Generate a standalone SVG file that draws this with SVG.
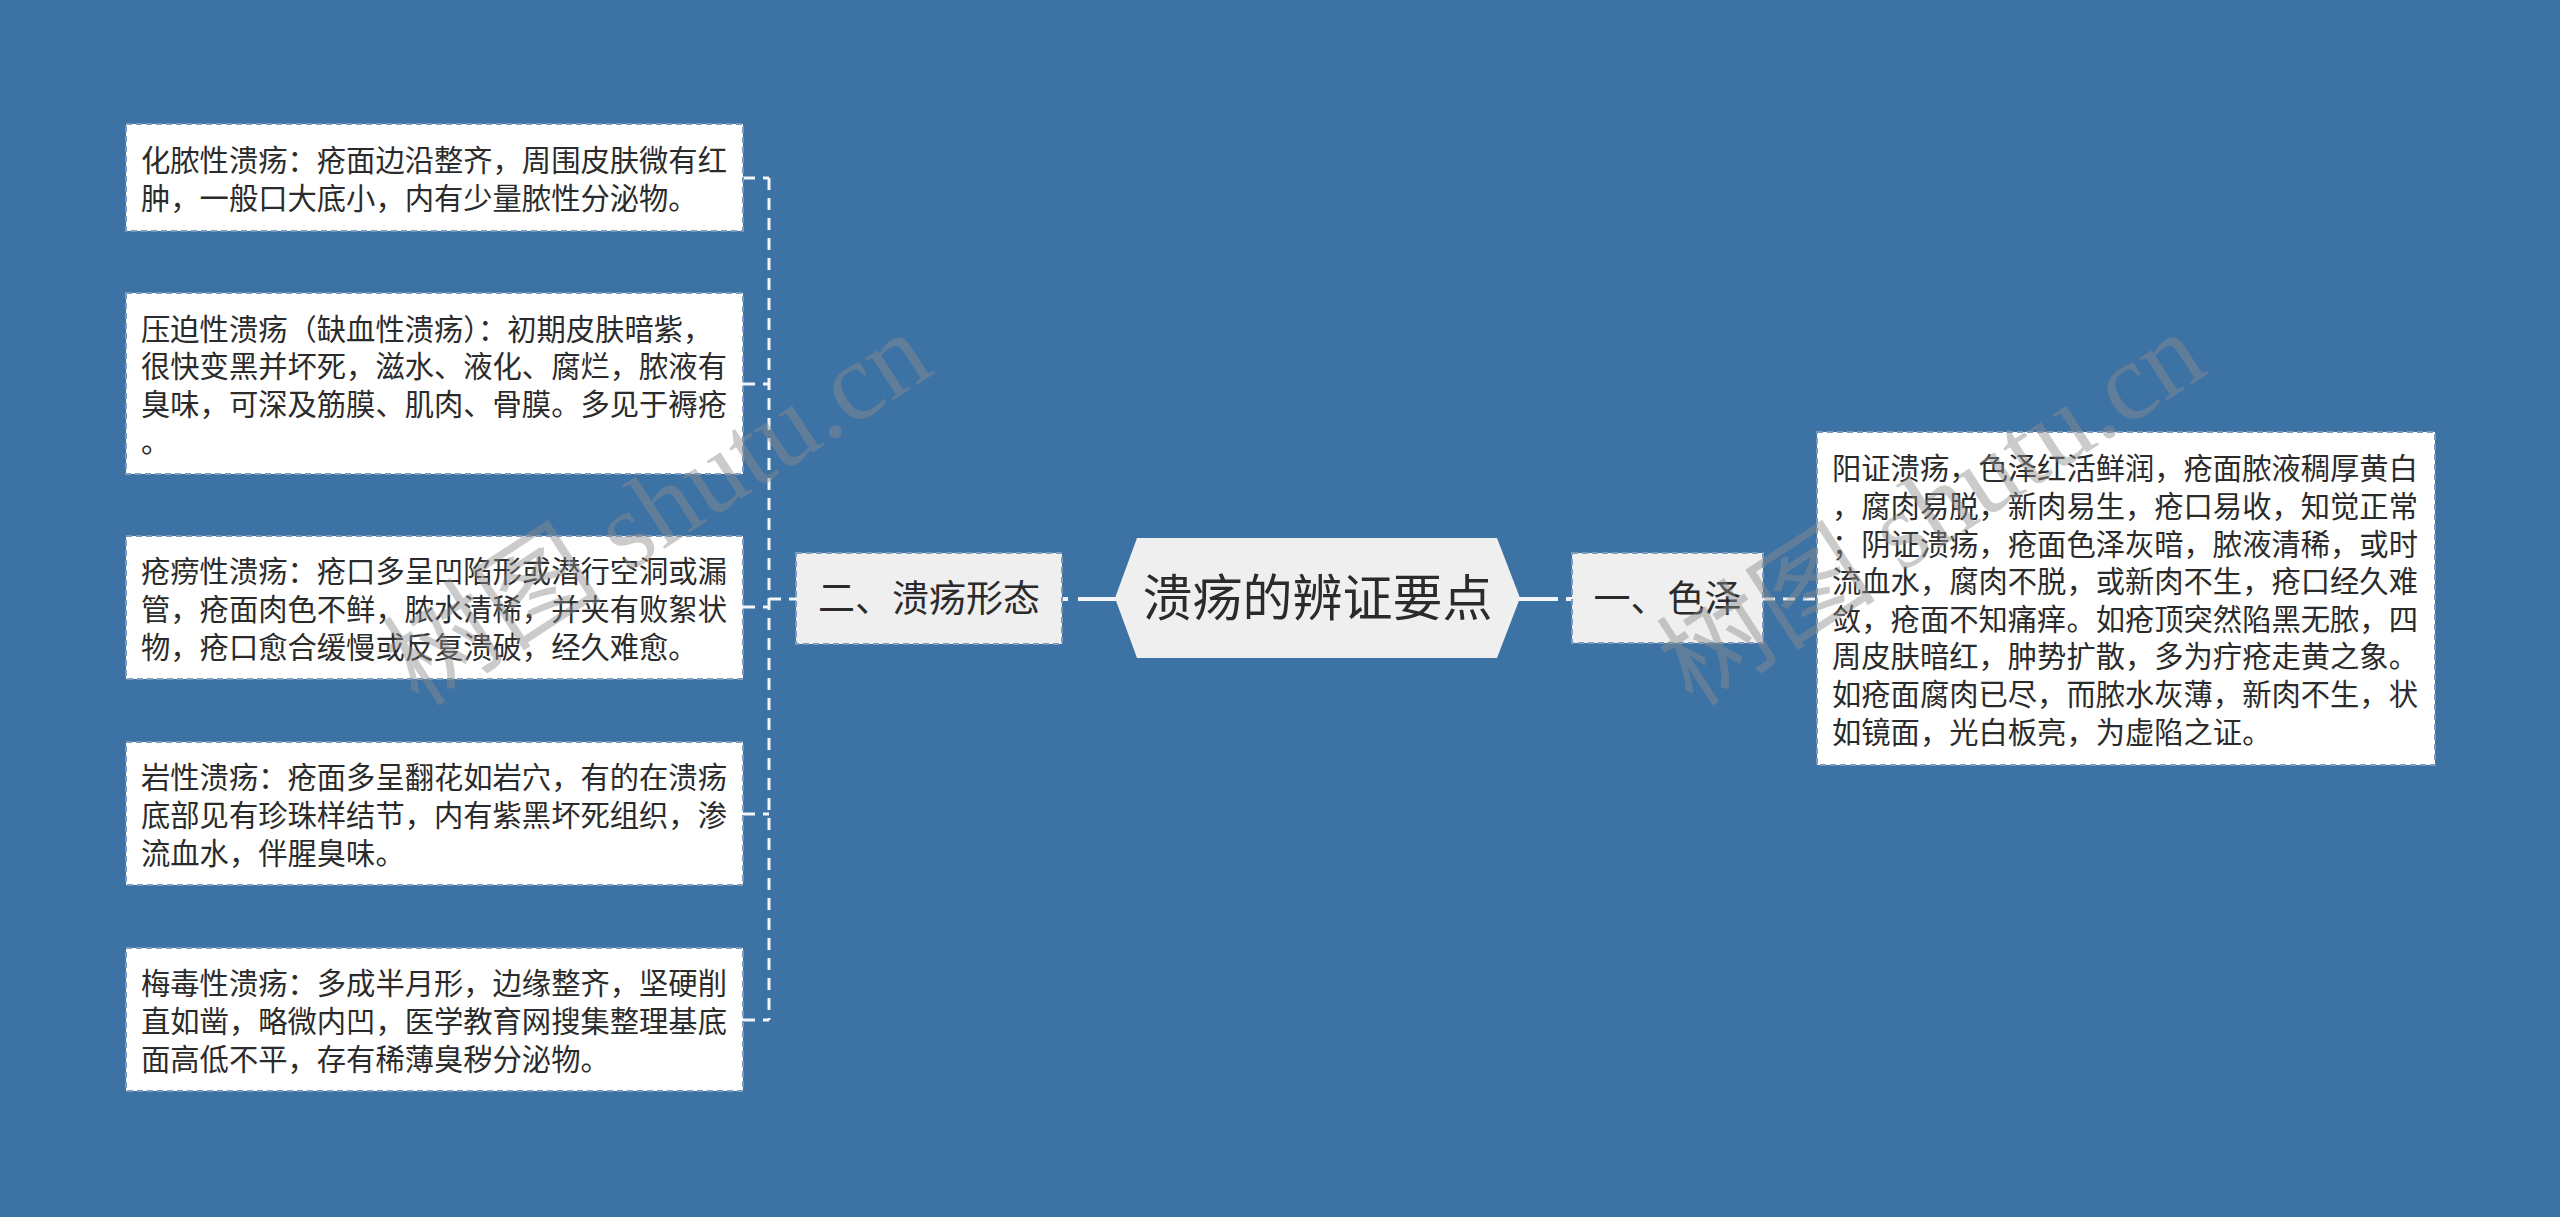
<svg xmlns="http://www.w3.org/2000/svg" width="2560" height="1217" viewBox="0 0 2560 1217">
<style>
.bg{fill:#3d72a5}
.leaf{fill:#ffffff;stroke:#7f9bbb;stroke-width:2;stroke-dasharray:6 4}
.l1{fill:#efefef;stroke:#7f9bbb;stroke-width:2;stroke-dasharray:6 4}
.root{fill:#efefef}
.t{font-family:"Noto Sans CJK SC","Noto Sans",sans-serif;fill:#2b2b2b}
.leaft{font-size:29.3px}
.l1t{font-size:37px;text-anchor:middle}
.roott{font-size:50px;text-anchor:middle}
.dash{fill:none;stroke:#f2f6fa;stroke-width:3;stroke-dasharray:12 8}
.solid{fill:none;stroke:#f2f6fa;stroke-width:4}
.wm{font-family:"Liberation Serif","Noto Sans CJK SC",serif;font-size:110px;fill:#8c8c8c;fill-opacity:0.45}
</style>
<rect class="bg" x="0" y="0" width="2560" height="1217"/>

<g id="connectors">
<path class="dash" d="M769,178 V1020"/>
<path class="dash" d="M743,178 H769"/>
<path class="dash" d="M743,384 H769"/>
<path class="dash" d="M743,607 H769"/>
<path class="dash" d="M743,814 H769"/>
<path class="dash" d="M743,1020 H769"/>
<path class="dash" d="M769,599 H796"/>
<path class="solid" d="M1062,599 H1068 M1078,599 H1116"/>
<path class="solid" d="M1519,599 H1558 M1566,599 H1572"/>
<path class="dash" d="M1763,599 H1817"/>
</g>

<g id="node-b1">
<rect class="leaf" x="126" y="124" width="617" height="107"/>
<text class="t leaft" x="141"><tspan x="141" y="171">化脓性溃疡：疮面边沿整齐，周围皮肤微有红</tspan><tspan x="141" y="209">肿，一般口大底小，内有少量脓性分泌物。</tspan></text>
</g>
<g id="node-b2">
<rect class="leaf" x="126" y="293" width="617" height="181"/>
<text class="t leaft" x="141"><tspan x="141" y="340">压迫性溃疡（缺血性溃疡）：初期皮肤暗紫，</tspan><tspan x="141" y="377">很快变黑并坏死，滋水、液化、腐烂，脓液有</tspan><tspan x="141" y="415">臭味，可深及筋膜、肌肉、骨膜。多见于褥疮</tspan><tspan x="141" y="452">。</tspan></text>
</g>
<g id="node-b3">
<rect class="leaf" x="126" y="536" width="617" height="143"/>
<text class="t leaft" x="141"><tspan x="141" y="582">疮痨性溃疡：疮口多呈凹陷形或潜行空洞或漏</tspan><tspan x="141" y="620">管，疮面肉色不鲜，脓水清稀，并夹有败絮状</tspan><tspan x="141" y="658">物，疮口愈合缓慢或反复溃破，经久难愈。</tspan></text>
</g>
<g id="node-b4">
<rect class="leaf" x="126" y="742" width="617" height="143"/>
<text class="t leaft" x="141"><tspan x="141" y="788">岩性溃疡：疮面多呈翻花如岩穴，有的在溃疡</tspan><tspan x="141" y="826">底部见有珍珠样结节，内有紫黑坏死组织，渗</tspan><tspan x="141" y="864">流血水，伴腥臭味。</tspan></text>
</g>
<g id="node-b5">
<rect class="leaf" x="126" y="948" width="617" height="143"/>
<text class="t leaft" x="141"><tspan x="141" y="994">梅毒性溃疡：多成半月形，边缘整齐，坚硬削</tspan><tspan x="141" y="1032">直如凿，略微内凹，医学教育网搜集整理基底</tspan><tspan x="141" y="1070">面高低不平，存有稀薄臭秽分泌物。</tspan></text>
</g>

<g id="node-form">
<rect class="l1" x="796" y="553" width="266" height="91"/>
<text class="t l1t" x="929" y="612">二、溃疡形态</text>
</g>

<g id="node-root">
<polygon class="root" points="1115,598 1137,538 1497,538 1520,598 1497,658 1137,658"/>
<text class="t roott" x="1317.5" y="616">溃疡的辨证要点</text>
</g>

<g id="node-color">
<rect class="l1" x="1572" y="553" width="191" height="90"/>
<text class="t l1t" x="1667.5" y="612">一、色泽</text>
</g>

<g id="node-color-detail">
<rect class="leaf" x="1817" y="432" width="618" height="333"/>
<text class="t leaft" x="1832"><tspan x="1832" y="479">阳证溃疡，色泽红活鲜润，疮面脓液稠厚黄白</tspan><tspan x="1832" y="517">，腐肉易脱，新肉易生，疮口易收，知觉正常</tspan><tspan x="1832" y="555">；阴证溃疡，疮面色泽灰暗，脓液清稀，或时</tspan><tspan x="1832" y="592">流血水，腐肉不脱，或新肉不生，疮口经久难</tspan><tspan x="1832" y="630">敛，疮面不知痛痒。如疮顶突然陷黑无脓，四</tspan><tspan x="1832" y="667">周皮肤暗红，肿势扩散，多为疔疮走黄之象。</tspan><tspan x="1832" y="705">如疮面腐肉已尽，而脓水灰薄，新肉不生，状</tspan><tspan x="1832" y="743">如镜面，光白板亮，为虚陷之证。</tspan></text>
</g>

<g id="watermark">
<text class="wm" x="661" y="545" text-anchor="middle" transform="rotate(-33 661 514)">树图 shutu.cn</text>
<text class="wm" x="1935" y="545" text-anchor="middle" transform="rotate(-33 1935 514)">树图 shutu.cn</text>
</g>
</svg>
